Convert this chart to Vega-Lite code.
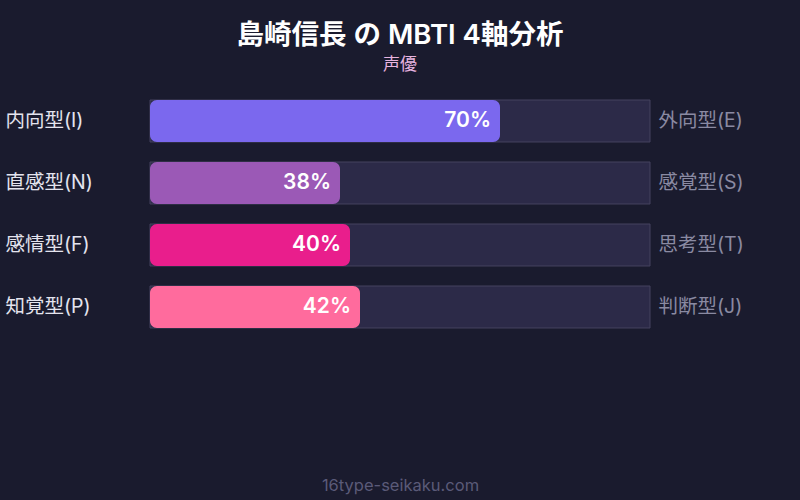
{
  "$schema": "https://vega.github.io/schema/vega-lite/v6.json",
  "autosize": {"type": "none"},
  "padding": {"left": 150, "right": 150, "top": 80, "bottom": 0},
  "width": 500,
  "height": 420,
  "background": "#1a1b2e",
  "title": {
    "text": "島崎信長 の MBTI 4軸分析",
    "subtitle": "声優",
    "anchor": "middle",
    "font": "Inter, Noto Sans CJK JP",
    "fontSize": 27.5,
    "fontWeight": 600,
    "color": "#ffffff",
    "subtitleFont": "Inter, Noto Sans CJK JP",
    "subtitleFontSize": 17,
    "subtitleColor": "#e8b4e0",
    "subtitlePadding": 8,
    "offset": 7
  },
  "config": {
    "view": {"stroke": null},
    "font": "Inter, Noto Sans CJK JP"
  },
  "data": {
    "values": [
      {"left": "内向型(I)", "right": "外向型(E)", "value": 70, "total": 100, "label": "70%", "color": "#7b68ee"},
      {"left": "直感型(N)", "right": "感覚型(S)", "value": 38, "total": 100, "label": "38%", "color": "#9b59b6"},
      {"left": "感情型(F)", "right": "思考型(T)", "value": 40, "total": 100, "label": "40%", "color": "#e91e8c"},
      {"left": "知覚型(P)", "right": "判断型(J)", "value": 42, "total": 100, "label": "42%", "color": "#ff6b9d"}
    ]
  },
  "layer": [
    {
      "mark": {"type": "bar", "fill": "#2c2a48", "stroke": "#45435f", "strokeWidth": 1},
      "encoding": {
        "y": {
          "field": "right", "type": "nominal", "sort": null,
          "scale": {"range": [10, 258], "paddingInner": 0.3226, "paddingOuter": 0.1613},
          "axis": {"orient": "right", "title": null, "domain": false, "ticks": false, "labelPadding": 8, "labelFontSize": 19.5, "labelColor": "#8a8aa2", "labelFont": "Inter, Noto Sans CJK JP"}
        },
        "x": {
          "field": "total", "type": "quantitative",
          "scale": {"domain": [0, 100]},
          "axis": {"domain": false, "ticks": false, "labels": false, "grid": false, "title": "16type-seikaku.com", "titleColor": "#5a5a78", "titleFontSize": 16.5, "titleFontWeight": "normal", "titleY": -10, "titleBaseline": "alphabetic", "titleX": 250, "titleAnchor": "middle"}
        }
      }
    },
    {
      "layer": [
        {
          "mark": {"type": "bar", "cornerRadius": 7},
          "encoding": {
            "color": {"field": "color", "type": "nominal", "scale": null}
          }
        },
        {
          "mark": {"type": "text", "align": "right", "dx": -9, "fontSize": 21, "fontWeight": 600, "color": "#ffffff", "font": "Inter, Noto Sans CJK JP"},
          "encoding": {
            "text": {"field": "label"}
          }
        }
      ],
      "encoding": {
        "y": {
          "field": "left", "type": "nominal", "sort": null,
          "scale": {"range": [10, 258], "paddingInner": 0.3226, "paddingOuter": 0.1613},
          "axis": {"orient": "left", "title": null, "domain": false, "ticks": false, "labelAlign": "left", "labelPadding": 145, "labelFontSize": 19.5, "labelColor": "#e4e4ee", "labelFont": "Inter, Noto Sans CJK JP"}
        },
        "x": {"field": "value", "type": "quantitative", "scale": {"domain": [0, 100]}}
      }
    }
  ],
  "resolve": {"scale": {"y": "independent"}, "axis": {"y": "independent"}}
}
